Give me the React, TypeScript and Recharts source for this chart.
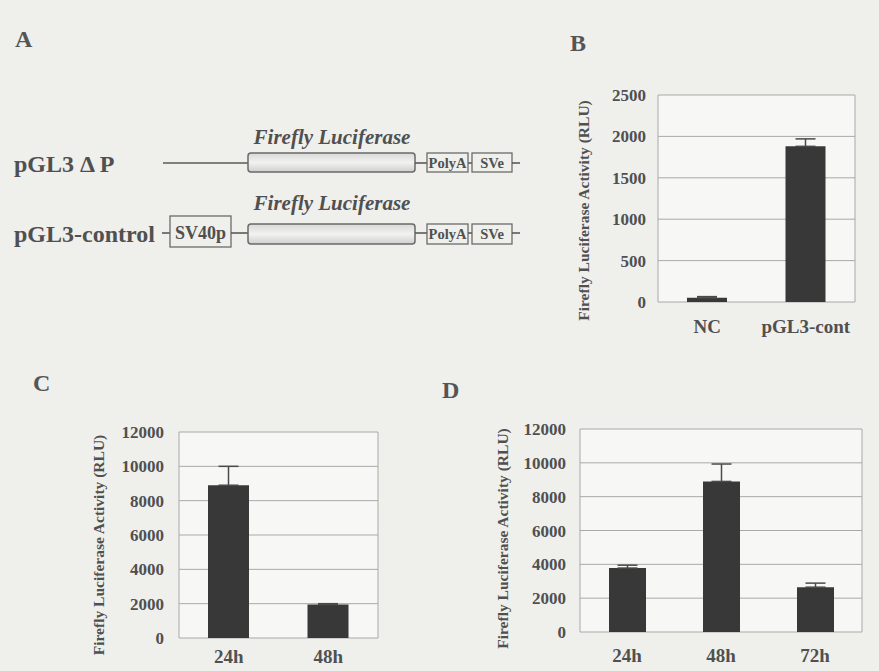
import React from "react";
import { BarChart, Bar, XAxis, YAxis, CartesianGrid, ErrorBar, Label } from "recharts";

// panel B: NC vs pGL3-control
const bLabels = ["NC", "pGL3-cont"];
const bValues = [50, 1880];
const bErrors = [15, 90];
const bTicks = [0, 500, 1000, 1500, 2000, 2500];

// panel C: two time points
const cLabels = ["24h", "48h"];
const cValues = [8900, 1950];
const cErrors = [1100, 50];

// panel D: three time points
const dLabels = ["24h", "48h", "72h"];
const dValues = [3780, 8900, 2650];
const dErrors = [170, 1030, 240];

const timeTicks = [0, 2000, 4000, 6000, 8000, 10000, 12000];

const SERIF = '"Liberation Serif", "Times New Roman", serif';
const INK = "#505050";
const BAR = "#383838";
const GRID = "#a9a9a9";

type Row = { name: string; value: number; err: number[] };

function rows(labels: string[], values: number[], errors: number[]): Row[] {
  return labels.map((name, i) => ({ name, value: values[i], err: [0, errors[i]] }));
}

type PanelProps = {
  left: number;
  top: number;
  width: number;
  height: number;
  data: Row[];
  ticks: number[];
  yWidth: number;
  yMargin: number;
  marginTop: number;
  marginRight: number;
  xHeight: number;
  xMargin: number;
  labelOffset: number;
  labelDy: number;
  barSize: number;
};

function Panel(p: PanelProps) {
  const plotLeft = p.yWidth;
  const plotRight = p.width - p.marginRight;
  return (
    <div style={{ position: "absolute", left: p.left, top: p.top }}>
      <BarChart
        width={p.width}
        height={p.height}
        data={p.data}
        margin={{ top: p.marginTop, right: p.marginRight, bottom: 0, left: 0 }}
      >
        <CartesianGrid
          stroke={GRID}
          fill="#f7f7f5"
          verticalPoints={[plotLeft, plotRight]}
        />
        <XAxis
          dataKey="name"
          height={p.xHeight}
          tickLine={false}
          axisLine={false}
          interval={0}
          tickMargin={p.xMargin}
          tick={{ fill: INK, fontFamily: SERIF, fontWeight: "bold", fontSize: 19 }}
        />
        <YAxis
          width={p.yWidth}
          ticks={p.ticks}
          domain={[0, p.ticks[p.ticks.length - 1]]}
          interval={0}
          tickLine={false}
          axisLine={false}
          tickMargin={p.yMargin}
          tick={{ fill: INK, fontFamily: SERIF, fontWeight: "bold", fontSize: 17 }}
        >
          <Label
            value="Firefly Luciferase Activity (RLU)"
            angle={-90}
            position="insideLeft"
            offset={p.labelOffset}
            dy={p.labelDy}
            style={{ textAnchor: "middle", fill: INK, fontFamily: SERIF, fontWeight: "bold", fontSize: 15.5 }}
          />
        </YAxis>
        <Bar dataKey="value" fill={BAR} barSize={p.barSize} isAnimationActive={false}>
          <ErrorBar dataKey="err" direction="y" width={10} stroke="#4a4a4a" strokeWidth={1.5} />
        </Bar>
      </BarChart>
    </div>
  );
}

function Construct() {
  const line = { stroke: "#5a5a5a", strokeWidth: 1.6 };
  const box = { fill: "none", stroke: "#6a6a6a", strokeWidth: 1.3 };
  const small = { fill: INK, fontFamily: SERIF, fontWeight: "bold" as const, fontSize: 14.5, textAnchor: "middle" as const };
  const big = { fill: INK, fontFamily: SERIF, fontWeight: "bold" as const, fontSize: 24 };
  const luc = { fill: INK, fontFamily: SERIF, fontWeight: "bold" as const, fontStyle: "italic" as const, fontSize: 21, textAnchor: "middle" as const };
  return (
    <svg width={540} height={270} style={{ position: "absolute", left: 0, top: 0 }}>
      <defs>
        <linearGradient id="lucFill" x1="0" y1="0" x2="0" y2="1">
          <stop offset="0" stopColor="#d8d8d6" />
          <stop offset="0.5" stopColor="#f2f2f0" />
          <stop offset="1" stopColor="#cfcfcd" />
        </linearGradient>
      </defs>

      {/* pGL3 delta P */}
      <text x={14} y={172} {...big}>pGL3 Δ P</text>
      <text x={332} y={144} {...luc}>Firefly Luciferase</text>
      <line x1={163} y1={163} x2={248} y2={163} {...line} />
      <rect x={248} y={153} width={167} height={19} rx={3} fill="url(#lucFill)" stroke="#6a6a6a" strokeWidth={1.5} />
      <line x1={415} y1={163} x2={427} y2={163} {...line} />
      <rect x={427} y={153} width={41} height={19} {...box} />
      <text x={447.5} y={167.5} {...small}>PolyA</text>
      <line x1={468} y1={163} x2={472} y2={163} {...line} />
      <rect x={472} y={153} width={40} height={19} {...box} />
      <text x={492} y={167.5} {...small}>SVe</text>
      <line x1={512} y1={163} x2={520} y2={163} {...line} />

      {/* pGL3-control */}
      <text x={14} y={242} {...big}>pGL3-control</text>
      <text x={332} y={210} {...luc}>Firefly Luciferase</text>
      <line x1={162} y1={233} x2={170} y2={233} {...line} />
      <rect x={170} y={216} width={61} height={31} {...box} />
      <text x={200.5} y={239} {...small} fontSize={18}>SV40p</text>
      <line x1={231} y1={233} x2={248} y2={233} {...line} />
      <rect x={248} y={224} width={167} height={20} rx={3} fill="url(#lucFill)" stroke="#6a6a6a" strokeWidth={1.5} />
      <line x1={415} y1={233} x2={427} y2={233} {...line} />
      <rect x={427} y={224} width={41} height={20} {...box} />
      <text x={447.5} y={238.5} {...small}>PolyA</text>
      <line x1={468} y1={233} x2={472} y2={233} {...line} />
      <rect x={472} y={224} width={40} height={20} {...box} />
      <text x={492} y={238.5} {...small}>SVe</text>
      <line x1={512} y1={233} x2={520} y2={233} {...line} />
    </svg>
  );
}

export default function App() {
  const letter = {
    position: "absolute" as const,
    fontFamily: SERIF,
    fontWeight: "bold" as const,
    fontSize: 24,
    color: "#555",
    lineHeight: "24px",
  };
  return (
    <div
      style={{
        position: "absolute",
        left: 0,
        top: 0,
        width: 879,
        height: 671,
        background: "#efefec",
        overflow: "hidden",
      }}
    >
      <div style={{ ...letter, left: 15, top: 27 }}>A</div>
      <div style={{ ...letter, left: 570, top: 31 }}>B</div>
      <div style={{ ...letter, left: 33, top: 371 }}>C</div>
      <div style={{ ...letter, left: 442, top: 378 }}>D</div>

      <Construct />

      <Panel
        left={560}
        top={80}
        width={310}
        height={270}
        data={rows(bLabels, bValues, bErrors)}
        ticks={bTicks}
        yWidth={98}
        yMargin={6}
        marginTop={15}
        marginRight={15}
        xHeight={48}
        xMargin={12}
        labelOffset={23}
        labelDy={12}
        barSize={40}
      />
      <Panel
        left={20}
        top={410}
        width={370}
        height={261}
        data={rows(cLabels, cValues, cErrors)}
        ticks={timeTicks}
        yWidth={159}
        yMargin={9}
        marginTop={22}
        marginRight={12}
        xHeight={33}
        xMargin={6}
        labelOffset={78}
        labelDy={10}
        barSize={41}
      />
      <Panel
        left={420}
        top={410}
        width={450}
        height={261}
        data={rows(dLabels, dValues, dErrors)}
        ticks={timeTicks}
        yWidth={160}
        yMargin={8}
        marginTop={19}
        marginRight={8}
        xHeight={39}
        xMargin={11}
        labelOffset={82}
        labelDy={8}
        barSize={37}
      />
    </div>
  );
}
